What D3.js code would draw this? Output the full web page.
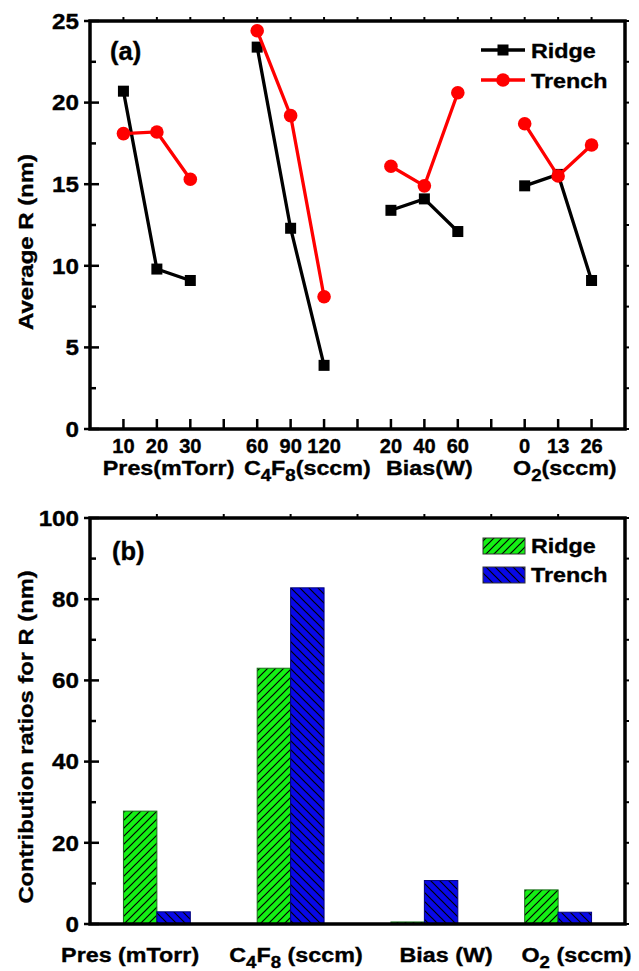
<!DOCTYPE html>
<html>
<head>
<meta charset="utf-8">
<script src="https://cdn.jsdelivr.net/npm/d3@7"></script>
<style>
  html, body { margin: 0; padding: 0; background: #fff; }
  #chart svg { display: block; }
  text { font-family: "Liberation Sans", Arial, sans-serif; font-weight: bold; fill: #000; stroke: #000; stroke-width: 0.35px; }
</style>
</head>
<body>
<div id="chart"></div>
<script>
// ---- data ----
const factors = ['Pres', 'C4F8', 'Bias', 'O2'];
const levelLabels = [['10', '20', '30'], ['60', '90', '120'], ['20', '40', '60'], ['0', '13', '26']];
const ridgeAvg = [[20.7, 9.8, 9.1], [23.4, 12.3, 3.9], [13.4, 14.1, 12.1], [14.9, 15.6, 9.1]];
const trenchAvg = [[18.1, 18.2, 15.3], [24.4, 19.2, 8.1], [16.1, 14.9, 20.6], [18.7, 15.5, 17.4]];
const ridgeContribution = [27.8, 63.0, 0.5, 8.4];
const trenchContribution = [3.0, 82.8, 10.7, 2.9];
const groupLabelsA = ['Pres(mTorr)', 'C_4F_8(sccm)', 'Bias(W)', 'O_2(sccm)'];
const groupLabelsB = ['Pres (mTorr)', 'C_4F_8 (sccm)', 'Bias (W)', 'O_2 (sccm)'];
const yTicksA = [0, 5, 10, 15, 20, 25];
const yTicksB = [0, 20, 40, 60, 80, 100];

// ---- layout ----
const width = 639, height = 971;
const left = 90, right = 625;
const STRETCH = 1.11;   // the figure's lettering is a little wide
const FS = 21;

const svg = d3.select('#chart').append('svg')
    .attr('width', width)
    .attr('height', height);

const defs = svg.append('defs');

// hatch patterns for the bars
function hatch(id, fill, dir, size) {
    const p = defs.append('pattern')
        .attr('id', id)
        .attr('patternUnits', 'userSpaceOnUse')
        .attr('width', size)
        .attr('height', size);
    p.append('rect').attr('width', size).attr('height', size).attr('fill', fill);
    const s = size;
    const d = dir > 0
        ? `M${-s / 4},${s / 4} L${s / 4},${-s / 4} M0,${s} L${s},0 M${s * 3 / 4},${s * 5 / 4} L${s * 5 / 4},${s * 3 / 4}`
        : `M${-s / 4},${s * 3 / 4} L${s / 4},${s * 5 / 4} M0,0 L${s},${s} M${s * 3 / 4},${-s / 4} L${s * 5 / 4},${s / 4}`;
    p.append('path').attr('d', d).attr('stroke', '#000').attr('stroke-width', 1.2);
}
hatch('ridgeHatch', '#14f014', 1, 8);
hatch('trenchHatch', '#0808e8', -1, 9);

// text with horizontal stretch, supports "_x" subscripts
function addText(g, x, y, str, opts = {}) {
    const size = opts.size || FS;
    const t = g.append('text')
        .attr('transform', `translate(${x},${y})${opts.rotate ? ` rotate(${opts.rotate})` : ''} scale(${opts.sx || STRETCH},1)`)
        .attr('text-anchor', opts.anchor || 'start')
        .style('font-size', size + 'px');
    const parts = str.split(/(_\d)/).filter(s => s.length);
    let shifted = false;
    parts.forEach(p => {
        if (p[0] === '_') {
            t.append('tspan').attr('dy', 6).style('font-size', size * 0.8 + 'px').text(p.slice(1));
            shifted = true;
        } else {
            t.append('tspan').attr('dy', shifted ? -6 : 0).text(p);
            shifted = false;
        }
    });
    return t;
}

// positions: each factor takes 4 slots on a 0..16 index axis
const x = d3.scaleLinear().domain([0, 16]).range([left, right]);
const pos = (g, i) => 1 + 4 * g + i;

// frame + y ticks common to both panels
function frame(g, y, yTicks, minorStep, top, bottom) {
    const major = yTicks;
    const minor = d3.range(yTicks[0] + minorStep, yTicks[yTicks.length - 1], minorStep * 2);

    // left axis ticks: major crossing, minor inward
    g.selectAll(null).data(major).join('line')
        .attr('x1', left - 6).attr('x2', left + 9)
        .attr('y1', d => y(d)).attr('y2', d => y(d))
        .attr('stroke', '#000').attr('stroke-width', 2.5);
    g.selectAll(null).data(minor).join('line')
        .attr('x1', left).attr('x2', left + 6)
        .attr('y1', d => y(d)).attr('y2', d => y(d))
        .attr('stroke', '#000').attr('stroke-width', 2.5);
    // right mirror ticks
    g.selectAll(null).data(major.concat(minor)).join('line')
        .attr('x1', right).attr('x2', right + 4)
        .attr('y1', d => y(d)).attr('y2', d => y(d))
        .attr('stroke', '#000').attr('stroke-width', 2);

    // tick labels
    major.forEach(v => addText(g, left - 11, y(v) + 7.8, String(v), { anchor: 'end', size: 22, sx: 1.1 }));

    // box
    g.append('rect')
        .attr('x', left).attr('y', top)
        .attr('width', right - left).attr('height', bottom - top)
        .attr('fill', 'none').attr('stroke', '#000').attr('stroke-width', 3.5);
}

// ================= panel (a) =================
const topA = 21, bottomA = 429;
const yA = d3.scaleLinear().domain([0, 25]).range([bottomA, topA]);
const gA = svg.append('g');

// x ticks: inward on bottom, small outward on top
const slotsA = d3.range(1, 16);
gA.selectAll(null).data(slotsA).join('line')
    .attr('x1', d => x(d)).attr('x2', d => x(d))
    .attr('y1', bottomA).attr('y2', bottomA - 10)
    .attr('stroke', '#000').attr('stroke-width', 2.5);
gA.selectAll(null).data(slotsA).join('line')
    .attr('x1', d => x(d)).attr('x2', d => x(d))
    .attr('y1', topA).attr('y2', topA - 4)
    .attr('stroke', '#000').attr('stroke-width', 2);

frame(gA, yA, yTicksA, 2.5, topA, bottomA);

// series lines, one segment group per factor
const seriesA = [
    { name: 'Ridge', values: ridgeAvg, color: '#000', marker: 'square' },
    { name: 'Trench', values: trenchAvg, color: '#ff0000', marker: 'circle' }
];
const line = d3.line().x(d => x(d.p)).y(d => yA(d.v));

seriesA.forEach(s => {
    const sg = gA.append('g');
    s.values.forEach((vals, gi) => {
        const pts = vals.map((v, i) => ({ p: pos(gi, i), v }));
        sg.append('path')
            .attr('d', line(pts))
            .attr('fill', 'none')
            .attr('stroke', s.color)
            .attr('stroke-width', 3.3);
        if (s.marker === 'square') {
            sg.selectAll(null).data(pts).join('rect')
                .attr('x', d => x(d.p) - 5.5).attr('y', d => yA(d.v) - 5.5)
                .attr('width', 11).attr('height', 11)
                .attr('fill', s.color);
        } else {
            sg.selectAll(null).data(pts).join('circle')
                .attr('cx', d => x(d.p)).attr('cy', d => yA(d.v))
                .attr('r', 6.8)
                .attr('fill', s.color);
        }
    });
});

// level labels
levelLabels.forEach((lv, gi) => {
    lv.forEach((t, i) => addText(gA, x(pos(gi, i)), 453, t, { anchor: 'middle', size: 19.5, sx: 1.03 }));
});
// factor labels (centres, in slot units)
const groupCentersA = [2.35, 6.5, 10.15, 14.2];
groupLabelsA.forEach((t, gi) => addText(gA, x(groupCentersA[gi]), 475, t, { anchor: 'middle' }));

// y title
addText(gA, 33, (topA + bottomA) / 2 + 17, 'Average R (nm)', { anchor: 'middle', rotate: -90, sx: 1.14 });

addText(gA, 110, 60, '(a)', { size: 25, sx: 1.02 });

// legend
const legA = gA.append('g');
seriesA.forEach((s, i) => {
    const ly = 50 + i * 30;
    legA.append('line')
        .attr('x1', 481).attr('x2', 525).attr('y1', ly).attr('y2', ly)
        .attr('stroke', s.color).attr('stroke-width', 3.3);
    if (s.marker === 'square') {
        legA.append('rect').attr('x', 497.5).attr('y', ly - 5.5).attr('width', 11).attr('height', 11).attr('fill', s.color);
    } else {
        legA.append('circle').attr('cx', 503).attr('cy', ly).attr('r', 6.8).attr('fill', s.color);
    }
    addText(legA, 531, ly + 7.5, s.name);
});

// ================= panel (b) =================
const topB = 518, bottomB = 924;
const yB = d3.scaleLinear().domain([0, 100]).range([bottomB, topB]);
const gB = svg.append('g');

// top mirror ticks at every other slot
const slotsB = d3.range(2, 16, 2);
gB.selectAll(null).data(slotsB).join('line')
    .attr('x1', d => x(d)).attr('x2', d => x(d))
    .attr('y1', topB).attr('y2', topB - 4)
    .attr('stroke', '#000').attr('stroke-width', 2);

// bars
const barsB = [
    { name: 'Ridge', values: ridgeContribution, fill: 'url(#ridgeHatch)', stroke: '#1a6d1a', offset: 0 },
    { name: 'Trench', values: trenchContribution, fill: 'url(#trenchHatch)', stroke: '#00007a', offset: 1 }
];
barsB.forEach(b => {
    gB.selectAll(null).data(b.values).join('rect')
        .attr('x', (d, gi) => x(1 + 4 * gi + b.offset))
        .attr('width', x(1) - x(0))
        .attr('y', d => yB(d))
        .attr('height', d => bottomB - yB(d))
        .attr('fill', b.fill)
        .attr('stroke', b.stroke)
        .attr('stroke-width', 1);
});

frame(gB, yB, yTicksB, 10, topB, bottomB);

const groupCentersB = [1.2, 6.16, 10.65, 14.55];
groupLabelsB.forEach((t, gi) => addText(gB, x(groupCentersB[gi]), 962, t, { anchor: 'middle' }));

addText(gB, 33, (topB + bottomB) / 2 + 16, 'Contribution ratios for R (nm)', { anchor: 'middle', rotate: -90, sx: 1.13 });

addText(gB, 112, 560, '(b)', { size: 25, sx: 1.02 });

// legend
const legB = gB.append('g');
barsB.forEach((b, i) => {
    const ly = 538 + i * 29;
    legB.append('rect')
        .attr('x', 483).attr('y', ly)
        .attr('width', 42).attr('height', 16)
        .attr('fill', b.fill)
        .attr('stroke', '#333').attr('stroke-width', 1);
    addText(legB, 531, ly + 14.5, b.name);
});
</script>
</body>
</html>
